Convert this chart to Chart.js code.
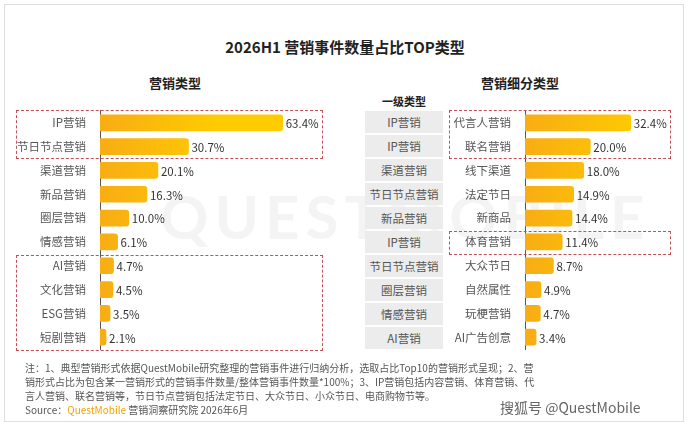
<!DOCTYPE html>
<html><head><meta charset="utf-8">
<script src="https://cdn.jsdelivr.net/npm/chart.js@4"></script>
<style>
body{margin:0;width:690px;height:428px;background:#fff;font-family:"Noto Sans CJK SC",sans-serif;position:relative;overflow:hidden}
.abs{position:absolute}
#frame{left:4px;top:4px;width:680px;height:418px;border:1px solid #ddd;box-sizing:border-box}
.box{position:absolute;border:1px dashed #c0505a;box-sizing:border-box}
.gcell{position:absolute;left:365px;width:78px;height:22px;background:#ececec;color:#555;font-size:11.5px;text-align:center;line-height:22px}
#note{left:25px;top:361px;width:510px;font-size:10px;color:#555;line-height:14px}
</style></head><body>
<div id="frame" class="abs"></div>
<div class="abs" style="left:160px;top:180px;font-size:60px;color:#f4f4f4;font-family:Lato;letter-spacing:6px;font-weight:bold">QUESTMOBILE</div>
<div class="abs" style="left:0;width:690px;top:36px;text-align:center;font-size:15px;font-weight:bold;color:#222">2026H1 营销事件数量占比TOP类型</div>
<div class="abs" style="left:100px;width:150px;top:73px;text-align:center;font-size:13px;font-weight:bold;color:#222">营销类型</div>
<div class="abs" style="left:440px;width:160px;top:73px;text-align:center;font-size:13px;font-weight:bold;color:#222">营销细分类型</div>
<div class="abs" style="left:365px;width:78px;top:93px;text-align:center;font-size:11px;font-weight:bold;color:#222">一级类型</div>
<div id="grey"></div>
<canvas id="c1" class="abs" width="345" height="264" style="left:0;top:98px"></canvas>
<canvas id="c2" class="abs" width="340" height="264" style="left:345px;top:98px"></canvas>
<div class="box" style="left:16px;top:110px;width:307px;height:49px"></div>
<div class="box" style="left:16px;top:255px;width:307px;height:96px"></div>
<div class="box" style="left:449px;top:110px;width:222px;height:49px"></div>
<div class="box" style="left:449px;top:231px;width:222px;height:24px"></div>
<div id="note" class="abs">注：1、典型营销形式依据QuestMobile研究整理的营销事件进行归纳分析，选取占比Top10的营销形式呈现；2、营销形式占比为包含某一营销形式的营销事件数量/整体营销事件数量*100%；3、IP营销包括内容营销、体育营销、代言人营销、联名营销等，节日节点营销包括法定节日、大众节日、小众节日、电商购物节等。<br>Source：<span style="color:#f5a300">QuestMobile</span> 营销洞察研究院 2026年6月</div>
<div class="abs" style="left:500px;top:397px;font-size:14px;color:#666">搜狐号 @QuestMobile</div>
<script>
const leftCats=["IP营销","节日节点营销","渠道营销","新品营销","圈层营销","情感营销","AI营销","文化营销","ESG营销","短剧营销"];
const leftVals=[63.4,30.7,20.1,16.3,10.0,6.1,4.7,4.5,3.5,2.1];
const levelCats=["IP营销","IP营销","渠道营销","节日节点营销","新品营销","IP营销","节日节点营销","圈层营销","情感营销","AI营销"];
const rightCats=["代言人营销","联名营销","线下渠道","法定节日","新商品","体育营销","大众节日","自然属性","玩梗营销","AI广告创意"];
const rightVals=[32.4,20.0,18.0,14.9,14.4,11.4,8.7,4.9,4.7,3.4];
const g=document.getElementById('grey');
levelCats.forEach((t,i)=>{const d=document.createElement('div');d.className='gcell';d.style.top=(111+i*24)+'px';d.textContent=t;g.appendChild(d);});
const labelPlugin={id:'lbl',afterDatasetsDraw(ch){const ctx=ch.ctx;ctx.save();ctx.font='11.5px "Noto Sans CJK SC"';ctx.fillStyle='#333';ctx.textBaseline='middle';
ch.getDatasetMeta(0).data.forEach((b,i)=>{ctx.fillText(ch.data.datasets[0].data[i].toFixed(1)+'%',b.x+3,b.y+1);});ctx.restore();}};
function grad(c){const {ctx,chartArea}=c.chart;if(!chartArea)return '#fbb800';const gr=ctx.createLinearGradient(chartArea.left,0,chartArea.left+120,0);gr.addColorStop(0,'#f8ad14');gr.addColorStop(1,'#ffcc00');return gr;}
function mk(id,cats,vals,axisW,max){
new Chart(document.getElementById(id),{type:'bar',data:{labels:cats,datasets:[{data:vals,backgroundColor:grad,barThickness:16,borderRadius:{topRight:3,bottomRight:3}}]},
options:{indexAxis:'y',responsive:false,animation:false,layout:{padding:0},
plugins:{legend:{display:false},tooltip:{enabled:false}},
scales:{x:{display:false,min:0,max:max},y:{afterFit(s){s.width=axisW;},grid:{display:false},border:{display:true,color:'#555',width:1},
ticks:{color:'#555',font:{size:11.5,family:'"Noto Sans CJK SC"'},padding:6}}}},plugins:[labelPlugin]});}
mk('c1',leftCats,leftVals,100,85);
mk('c2',rightCats,rightVals,180,49);
</script></body></html>
